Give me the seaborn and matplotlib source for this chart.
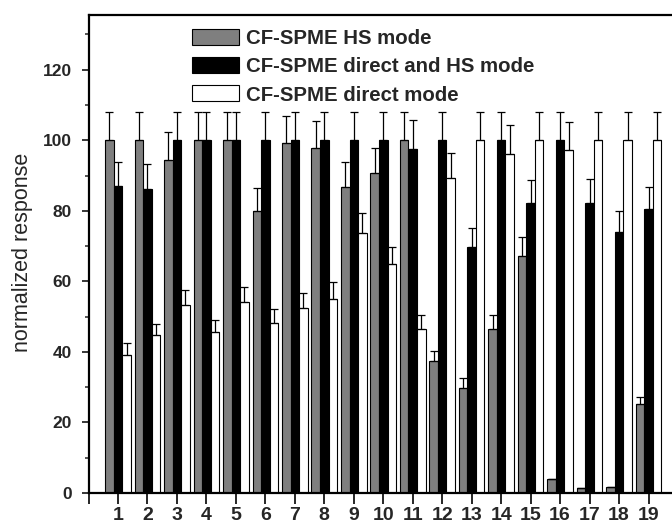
import matplotlib
matplotlib.use("Agg")
import matplotlib.pyplot as plt
import seaborn as sns
import pandas as pd
import numpy as np

# Analyte numbers and normalized responses for the three extraction modes
compounds = [str(i) for i in range(1, 20)]
modes = ["CF-SPME HS mode", "CF-SPME direct and HS mode", "CF-SPME direct mode"]

hs_mode = [100, 100, 94.5, 100, 100, 80.0, 99.1, 97.9, 86.8, 90.6,
           100, 37.4, 29.9, 46.6, 67.1, 4.0, 1.3, 1.6, 25.2]
hs_err = [8, 8, 7.7, 8, 8, 6.5, 7.8, 7.6, 7.0, 7.3,
          8, 2.9, 2.6, 3.8, 5.5, 0, 0, 0, 2.1]

both_mode = [87.0, 86.3, 100, 100, 100, 100, 100, 100, 100, 100,
             97.6, 100, 69.6, 100, 82.1, 100, 82.2, 74.0, 80.4]
both_err = [6.8, 6.9, 8, 8, 8, 8, 8, 8, 8, 8,
            8.1, 8, 5.4, 8, 6.6, 8, 6.8, 6.0, 6.4]

direct_mode = [39.1, 44.8, 53.3, 45.7, 54.2, 48.1, 52.5, 55.1, 73.6, 64.8,
               46.6, 89.3, 100, 96.2, 100, 97.3, 100, 100, 100]
direct_err = [3.3, 3.1, 4.2, 3.3, 4.2, 4.0, 4.1, 4.6, 5.9, 5.0,
              3.8, 7.2, 8, 8.0, 8, 7.9, 8, 8, 8]

values = [hs_mode, both_mode, direct_mode]
errors = [hs_err, both_err, direct_err]
colors = ["#7f7f7f", "#000000", "#ffffff"]

df = pd.DataFrame({
    "compound": compounds * 3,
    "mode": np.repeat(modes, len(compounds)),
    "response": hs_mode + both_mode + direct_mode,
})

sns.set_style("ticks")
plt.rcParams["font.family"] = ["Liberation Sans", "DejaVu Sans"]

fig = plt.figure(figsize=(6.72, 5.26), dpi=100)
ax = fig.add_axes([88.5 / 672, 1 - 493 / 526, 589.5 / 672, 478 / 526])

sns.barplot(data=df, x="compound", y="response", hue="mode", order=compounds,
            hue_order=modes, palette=dict(zip(modes, colors)), saturation=1,
            width=0.87, edgecolor="black", linewidth=0.8, errorbar=None,
            legend=False, ax=ax)

# upper error bars on every bar
for cont, err in zip(ax.containers, errors):
    xs = [b.get_x() + b.get_width() / 2 for b in cont]
    ys = [b.get_height() for b in cont]
    ax.errorbar(xs, ys, yerr=[np.zeros(len(err)), err], fmt="none",
                ecolor="black", elinewidth=0.9, capsize=2.6, capthick=0.9,
                zorder=3)

ax.set_xlim(-1, 19)
ax.set_ylim(0, 135.5)
ax.set_xticks(range(-1, 19))
ax.set_xticklabels([""] + compounds)
ax.set_yticks(range(0, 121, 20))
ax.set_yticks(range(10, 135, 20), minor=True)

ax.tick_params(axis="x", which="major", direction="out", length=8, width=1.4,
               pad=2, labelsize=14)
ax.tick_params(axis="y", which="major", direction="out", length=5, width=1.3,
               pad=7, labelsize=12.5)
ax.tick_params(axis="y", which="minor", direction="out", length=3, width=1.1)
for lbl in ax.get_xticklabels() + ax.get_yticklabels():
    lbl.set_fontweight("bold")

for side in ["left", "bottom", "top", "right"]:
    ax.spines[side].set_visible(True)
    ax.spines[side].set_linewidth(1.6)
    ax.spines[side].set_color("black")

ax.set_xlabel("")
ax.set_ylabel("normalized response", fontsize=15.5)
ax.yaxis.set_label_coords(-0.094, 0.504)

leg = ax.legend(ax.containers, modes, loc="upper left",
                bbox_to_anchor=(191.7 / 672, 1 - 28.5 / 526),
                bbox_transform=fig.transFigure, frameon=False,
                borderpad=0, borderaxespad=0, handlelength=2.33,
                handleheight=0.83, handletextpad=0.33, labelspacing=0.46,
                prop={"size": 14.7, "weight": "bold"})

fig.savefig("out.png", dpi=100)
